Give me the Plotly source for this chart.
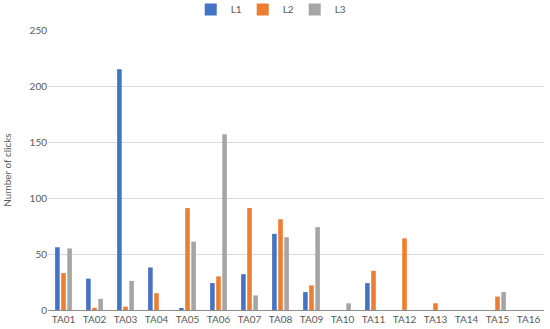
import plotly.graph_objects as go

categories = ["TA01", "TA02", "TA03", "TA04", "TA05", "TA06", "TA07", "TA08",
              "TA09", "TA10", "TA11", "TA12", "TA13", "TA14", "TA15", "TA16"]
l1 = [56, 28, 215, 38, 1, 24, 32, 68, 16, 0, 24, 0, 0, 0, 0, 0]
l2 = [33, 2, 3, 15, 91, 30, 91, 81, 22, 0, 35, 64, 6, 0, 12, 0]
l3 = [55, 10, 26, 0, 61, 157, 13, 65, 74, 6, 0, 0, 0, 0, 16, 0]

FONT = "Lato, 'Open Sans', sans-serif"
TEXT = "#595959"

fig = go.Figure()
for name, vals, color in [("L1", l1, "#4472C4"),
                          ("L2", l2, "#ED7D31"),
                          ("L3", l3, "#A5A5A5")]:
    fig.add_trace(go.Bar(x=categories, y=vals, name=name,
                         marker=dict(color=color, line=dict(width=0))))

fig.update_layout(
    width=550, height=329,
    margin=dict(l=48, r=6, t=30, b=19, autoexpand=False),
    paper_bgcolor="white", plot_bgcolor="white",
    barmode="group", bargap=0.41, bargroupgap=0.25,
    font=dict(family=FONT, size=10, color=TEXT),
    showlegend=True,
    legend=dict(orientation="h", x=0.445, xanchor="center",
                y=1.073, yanchor="middle",
                entrywidth=7, entrywidthmode="pixels",
                font=dict(size=10, color=TEXT), itemwidth=30),
    xaxis=dict(showgrid=False, showline=True, linecolor="#8c8c8c", linewidth=1,
               ticks="", automargin=False, tickfont=dict(size=10, color=TEXT)),
    yaxis=dict(range=[0, 250], dtick=50, showgrid=True, gridcolor="#d9d9d9",
               zeroline=False, showline=False, ticks="", automargin=False,
               tickfont=dict(size=10, color=TEXT),
               title=dict(text="Number of clicks", font=dict(size=10, color=TEXT),
                          standoff=16)),
)

# the page's default body margin would shift the figure by 8 px
fig.write_html("out.html", config={"displayModeBar": False},
               post_script="document.body.style.margin='0';")
